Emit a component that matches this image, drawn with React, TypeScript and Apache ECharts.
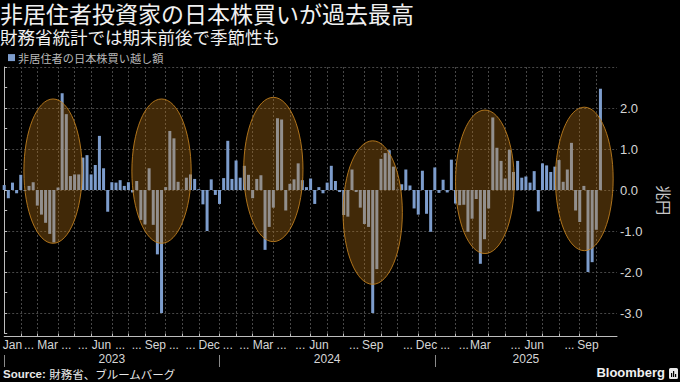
import React, { useEffect, useRef } from 'react';
import * as echarts from 'echarts';

const TITLE = '非居住者投資家の日本株買いが過去最高';
const SUBTITLE = '財務省統計では期末前後で季節性も';
const SERIES_NAME = '非居住者の日本株買い越し額';
const UNIT = '兆円';
const SOURCE_LABEL = 'Source:';
const SOURCE_TEXT = '財務省、ブルームバーグ';

// Weekly observations (Friday dated), first one:
const FIRST_WEEK = Date.UTC(2023, 0, 6);
const WEEK_MS = 7 * 86400000;
// the axis runs on to this week index (a few empty weeks after the last bar)
const AXIS_WEEKS = 148;

// Net purchases of Japanese stocks by non-residents (trillion yen), weekly
const flows = [
  0.12, -0.2, 0.18, -0.08, 0.37, -0.02, 0.1, 0.19, -0.38, -0.6,
  -0.8, -1.07, -1.28, 0.06, 2.36, 1.85, 0.34, 0.38, 0.38, 0.79,
  0.85, 0.38, 0.61, 1.32, 0.53, -0.53, 0.19, 0.18, 0.24, 0.1,
  0.19, -0.06, 0.22, -0.73, -0.84, 0.53, -0.85, -1.57, -3.0, 0.07,
  1.44, 1.26, 0.2, 0.01, 0.3, 0.38, 0.27, 0.02, -0.35, -1.0,
  0.26, -0.12, -0.34, 0.29, 1.2, 0.27, 0.72, 0.3, 0.59, 0.37,
  -0.2, 0.27, 0.36, -1.46, -0.9, -0.43, 1.75, 1.72, -0.5, 0.15,
  0.26, 0.65, 0.24, 0.07, 0.28, -0.34, 0.07, -0.08, 0.18, 0.59,
  0.22, -0.05, -0.61, -0.65, 0.5, -0.05, -0.43, -0.83, -0.9, -3.0,
  -1.93, 0.76, 0.9, 0.97, 0.57, 0.01, 0.14, 0.5, 0.11, -0.45,
  -0.6, 0.47, -0.58, -1.02, 0.55, -0.07, 0.25, -0.06, 0.74, -0.33,
  -0.37, -0.36, -1.02, -0.7, -0.22, -1.8, -1.2, -0.45, 1.77, 1.03,
  0.71, 0.28, 0.98, 0.44, 0.71, 0.3, 0.33, 0.18, 0.46, -0.52,
  0.65, 0.6, 0.44, 0.57, 0.73, 0.2, 0.5, 1.15, -0.5, -0.78,
  0.1, -2.0, -1.76, -0.97, 2.47,
];

const years = [2023, 2024, 2025];
const monthLabels2023 = ['Jan', '...', 'Mar', '...', '...', 'Jun', '...', '...', 'Sep', '...', '...', 'Dec'];
const monthLabels2024 = ['...', '...', 'Mar', '...', '...', 'Jun', '', '...', 'Sep', '', '...', 'Dec'];
const monthLabels2025 = ['...', '...', 'Mar', '', '...', 'Jun', '', '...', 'Sep', ''];
const monthLabelsByYear = [monthLabels2023, monthLabels2024, monthLabels2025];

// Y axis
const Y_MIN = -3.5;
const Y_MAX = 3;
const Y_STEP = 0.5;

// Seasonal highlight ellipses: centre (week index, value), half width (weeks), half height (value)
const ellipseWeek = [11.8, 38.0, 65.0, 89.0, 116.1, 140.1];
const ellipseValue = [0.46, 0.46, 0.5, -0.55, 0.2, 0.27];
const ellipseHalfWeeks = [7.04, 7.16, 7.16, 7.16, 7.1, 6.97];
const ellipseHalfValue = [1.76, 1.76, 1.76, 1.75, 1.75, 1.75];

const FONT = '"Noto Sans CJK JP", "Noto Sans", sans-serif';
const LATIN = '"Liberation Sans", Arial, sans-serif';

function weekIndexOf(ms: number) {
  const k = Math.ceil((ms - FIRST_WEEK) / WEEK_MS - 1e-9);
  return Math.max(0, Math.min(AXIS_WEEKS, k));
}

export default function App() {
  const ref = useRef<HTMLDivElement>(null);

  useEffect(() => {
    if (!ref.current) return;
    const chart = echarts.init(ref.current, null, { renderer: 'svg' });

    // half-week resolution category axis for ticks and labels
    const halfCats = Array.from({ length: 2 * AXIS_WEEKS + 1 }, (_, i) => String(i));
    const monthTick = new Set<number>();
    const monthLabelAt = new Map<number, string>();
    years.forEach((y, yi) => {
      monthLabelsByYear[yi].forEach((label, m) => {
        const g = weekIndexOf(Date.UTC(y, m, 1));
        const gNext = weekIndexOf(Date.UTC(y, m + 1, 1));
        if (g > 0) monthTick.add(2 * g);
        monthLabelAt.set(g + gNext, label);
      });
    });
    const yearTick = new Set<number>();
    const yearLabelAt = new Map<number, string>();
    years.forEach((y) => {
      const g0 = weekIndexOf(Date.UTC(y, 0, 1));
      const g1 = weekIndexOf(Date.UTC(y + 1, 0, 1));
      yearTick.add(2 * g0);
      yearLabelAt.set(g0 + g1, String(y));
    });

    const ellipses = ellipseWeek.map((w, i) => [w, ellipseValue[i], ellipseHalfWeeks[i], ellipseHalfValue[i]]);

    chart.setOption({
      animation: false,
      backgroundColor: '#000',
      title: {
        text: TITLE,
        subtext: SUBTITLE,
        left: 0,
        top: 0,
        padding: [1, 0, 0, 0],
        itemGap: 3,
        textStyle: { color: '#f0f0f0', fontSize: 23, lineHeight: 23, fontWeight: 'normal', fontFamily: FONT },
        subtextStyle: { color: '#f0f0f0', fontSize: 17.5, lineHeight: 18, fontFamily: FONT },
      },
      legend: {
        data: [SERIES_NAME],
        left: 3,
        top: 47,
        icon: 'rect',
        itemWidth: 7,
        itemHeight: 7,
        itemGap: 4,
        textStyle: { color: '#b8b8b8', fontSize: 11.2, fontFamily: FONT, padding: [0, 0, 0, -2] },
      },
      grid: { left: 1.7, right: 48, top: 67, bottom: 48.5, containLabel: false },
      xAxis: [
        { type: 'value', min: 0, max: AXIS_WEEKS, show: false },
        {
          type: 'category',
          data: halfCats,
          boundaryGap: false,
          position: 'bottom',
          offset: 3,
          axisLine: { show: true, lineStyle: { color: '#bdbdbd', width: 1 } },
          axisTick: { show: true, inside: true, length: 3, interval: (i: number) => monthTick.has(i), lineStyle: { color: '#bdbdbd' } },
          splitLine: { show: true, interval: (i: number) => monthTick.has(i), lineStyle: { color: '#474747', type: [2, 2], width: 1 } },
          axisLabel: {
            show: true,
            interval: (i: number) => monthLabelAt.has(i) && monthLabelAt.get(i) !== '',
            formatter: (_v: string, i: number) => monthLabelAt.get(i) || '',
            color: '#d6d6d6',
            fontSize: 12,
            fontFamily: LATIN,
            margin: 2,
          },
        },
        {
          type: 'category',
          data: halfCats,
          boundaryGap: false,
          position: 'bottom',
          offset: 33.5,
          axisLine: { show: false },
          axisTick: { show: true, inside: true, length: 12, interval: (i: number) => yearTick.has(i), lineStyle: { color: '#8a8a8a' } },
          splitLine: { show: false },
          axisLabel: {
            show: true,
            inside: true,
            interval: (i: number) => yearLabelAt.has(i),
            formatter: (_v: string, i: number) => yearLabelAt.get(i) || '',
            color: '#d6d6d6',
            fontSize: 12,
            fontFamily: LATIN,
            margin: 2,
          },
        },
      ],
      yAxis: {
        type: 'value',
        position: 'right',
        min: Y_MIN,
        max: Y_MAX,
        interval: Y_STEP,
        name: UNIT,
        nameLocation: 'middle',
        nameRotate: -90,
        nameGap: 40,
        nameTextStyle: { color: '#c8c8c8', fontSize: 15, fontFamily: FONT },
        axisLine: { show: true, lineStyle: { color: '#bdbdbd', width: 1 } },
        axisTick: { show: true, length: 3, lineStyle: { color: '#bdbdbd' } },
        axisLabel: {
          color: '#d6d6d6',
          fontSize: 13,
          fontFamily: LATIN,
          margin: 3,
          formatter: (v: number) => (Math.abs(v - Math.round(v)) < 1e-9 && v < Y_MAX - 1e-9 ? v.toFixed(1) : ''),
        },
        splitLine: { show: true, lineStyle: { color: ['rgba(0,0,0,0)', '#474747'], type: [2, 2], width: 1 } },
      },
      series: [
        {
          name: SERIES_NAME,
          type: 'bar',
          xAxisIndex: 0,
          yAxisIndex: 0,
          barWidth: 3,
          itemStyle: { color: '#7d9dcd' },
          data: flows.map((v, k) => [k, v]),
          z: 2,
        },
        {
          type: 'custom',
          xAxisIndex: 0,
          yAxisIndex: 0,
          z: 3,
          silent: true,
          encode: { x: 0, y: 1 },
          data: ellipses,
          renderItem: (_params: any, api: any) => {
            const c = api.coord([api.value(0), api.value(1)]);
            const e = api.coord([api.value(0) + api.value(2), api.value(1) - api.value(3)]);
            return {
              type: 'ellipse',
              shape: { cx: c[0], cy: c[1], rx: Math.abs(e[0] - c[0]), ry: Math.abs(e[1] - c[1]) },
              style: { fill: 'rgba(185,118,22,0.35)', stroke: 'rgba(190,125,30,0.9)', lineWidth: 1 },
            };
          },
        },
      ],
      graphic: [
        {
          type: 'text',
          left: 3,
          top: 368,
          style: {
            text: `{b|${SOURCE_LABEL}} {n|${SOURCE_TEXT}}`,
            rich: {
              b: { fill: '#e8e8e8', fontSize: 11.5, fontWeight: 'bold', fontFamily: LATIN },
              n: { fill: '#e8e8e8', fontSize: 11.5, fontFamily: FONT },
            },
          },
        },
        {
          type: 'text',
          right: 15,
          top: 366,
          style: { text: 'Bloomberg', fill: '#f0f0f0', fontSize: 13, fontWeight: 'bold', fontFamily: LATIN },
        },
        {
          type: 'group',
          right: 2,
          top: 368,
          children: [
            { type: 'rect', shape: { x: 0, y: 0, width: 9, height: 11, r: 1.5 }, style: { fill: '#e8e8e8' } },
            { type: 'rect', shape: { x: 2, y: 5, width: 1.2, height: 4 }, style: { fill: '#000' } },
            { type: 'rect', shape: { x: 4, y: 3, width: 1.2, height: 6 }, style: { fill: '#000' } },
            { type: 'rect', shape: { x: 6, y: 6, width: 1.2, height: 3 }, style: { fill: '#000' } },
          ],
        },
      ],
    });

    return () => chart.dispose();
  }, []);

  return (
    <div
      ref={ref}
      style={{ position: 'fixed', left: 0, top: 0, width: 680, height: 382, background: '#000' }}
    />
  );
}
